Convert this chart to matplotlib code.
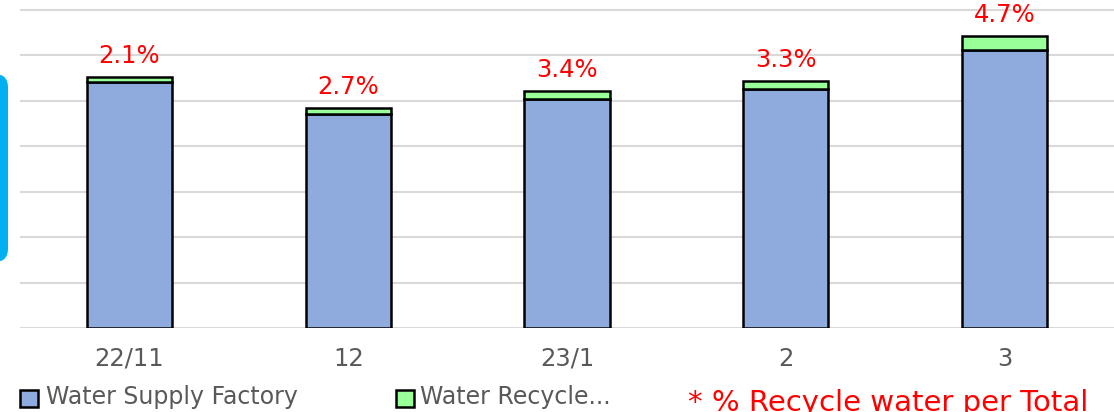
import matplotlib.pyplot as plt
from matplotlib.patches import FancyBboxPatch, Rectangle

plt.rcParams['font.family'] = ['DejaVu Sans']

months = ["22/11", "12", "23/1", "2", "3"]
supply = [2707, 2360, 2521, 2630, 3064]
recycle = [58, 65, 89, 90, 151]
series = ["Water Supply Factory", "Water Recycle..."]

blue = '#8FAADC'
green = '#99FF99'
W, H = 1114, 412

fig = plt.figure(figsize=(W / 100, H / 100), dpi=100)
ax = fig.add_axes([20 / W, (H - 328) / H, 1094 / W, 321.6 / H])

x = range(len(months))
ax.bar(x, supply, width=0.39, color=blue, edgecolor='black', linewidth=1.8, zorder=3)
ax.bar(x, recycle, bottom=supply, width=0.39, color=green, edgecolor='black', linewidth=1.8, zorder=3)

# share of recycled water on top of each bar
for i in x:
    total = supply[i] + recycle[i]
    pct = recycle[i] / total * 100
    ax.annotate(f"{pct:.1f}%", (i, total), xytext=(0, 10), textcoords='offset points',
                ha='center', va='baseline', color='#FF0000', fontsize=17.5)

ax.set_xlim(-0.5, 4.5)
ax.set_ylim(0, 3540)
ax.set_yticks(range(0, 3501, 500))
ax.yaxis.grid(True, color='#D9D9D9', linewidth=1.5, zorder=0)
ax.set_axisbelow(True)
for s in ax.spines.values():
    s.set_visible(False)
ax.tick_params(left=False, bottom=False, labelleft=False)
ax.set_xticks(list(x))
ax.set_xticklabels(months, color='#595959', fontsize=17.5)
ax.tick_params(axis='x', pad=10)

# blue side tab on the left edge
tab = FancyBboxPatch((-30 / W, (H - 262) / H), 38 / W, 188 / H,
                     boxstyle='round,pad=0,rounding_size=0.012', transform=fig.transFigure,
                     facecolor='#00B0F0', edgecolor='none', mutation_aspect=W / H)
fig.patches.append(tab)

# legend drawn by hand
for (sx, tx), color, name in zip([(20, 46), (396, 420)], [blue, green], series):
    fig.patches.append(Rectangle((sx / W, (H - 407) / H), 18 / W, 17 / H, transform=fig.transFigure,
                                 facecolor=color, edgecolor='black', linewidth=1.8))
    fig.text(tx / W, (H - 397) / H, name, color='#595959', fontsize=17, ha='left', va='center')

fig.text(688 / W, 1 / H, "* % Recycle water per Total", color='#FF0000', fontsize=21,
         ha='left', va='baseline')

fig.savefig('out.png', dpi=100)
